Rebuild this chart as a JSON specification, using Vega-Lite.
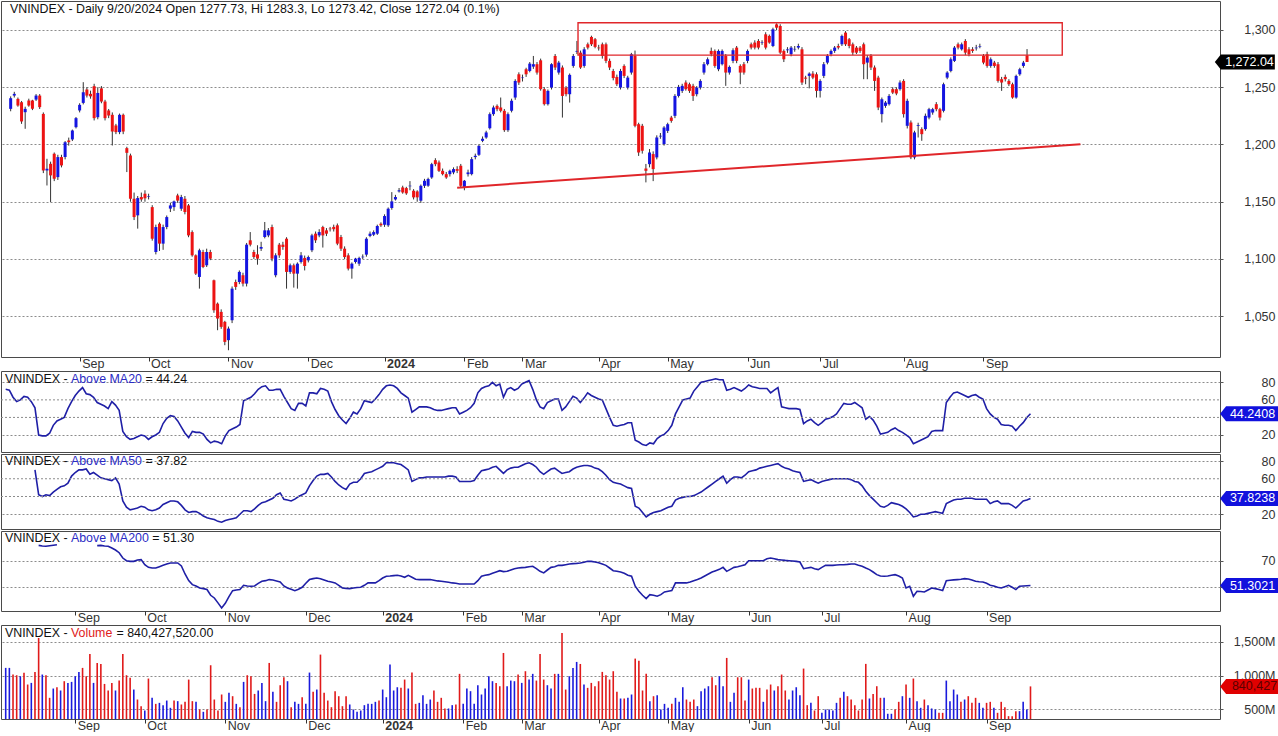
{
"$schema": "https://vega.github.io/schema/vega-lite/v6.json",
"padding": 0,
"background": "#ffffff",
"spacing": 0,
"config": {
  "view": {"stroke": "#4a4a4a", "strokeWidth": 1},
  "font": "Liberation Sans",
  "axis": {"labelFont": "Liberation Sans", "labelFontSize": 12.5, "labelColor": "#333333", "domain": false, "tickColor": "#555555", "labelOverlap": false, "labelBound": false},
  "text": {"font": "Liberation Sans", "fontSize": 12.4, "align": "left", "baseline": "middle"}
},
"datasets": {
"box": [{"i": 156.3, "i2": 289.7, "p": 1278, "p2": 1306.3}],
"trend": [{"i": 123.0, "i2": 294.7, "p": 1162.3, "p2": 1200.2}],
"bars": [
{"i":0,"o":1231.1,"h":1242,"l":1229,"c":1240.4,"v":1113,"a":72},
{"i":1,"o":1242.7,"h":1246,"l":1241,"c":1244.2,"v":1113,"a":71},
{"i":2,"o":1239.8,"h":1241,"l":1233,"c":1234,"v":1015,"a":63},
{"i":3,"o":1236.9,"h":1238,"l":1218,"c":1220.1,"v":1005,"a":58},
{"i":4,"o":1228.2,"h":1233,"l":1213.7,"c":1231.1,"v":990,"a":60},
{"i":5,"o":1238.4,"h":1240,"l":1233,"c":1234,"v":1040,"a":64},
{"i":6,"o":1238.4,"h":1239,"l":1230,"c":1231.1,"v":868,"a":63},
{"i":7,"o":1239.2,"h":1244,"l":1238,"c":1242.7,"v":892,"a":58},
{"i":8,"o":1242.7,"h":1244,"l":1231,"c":1232.6,"v":1054,"a":51,"b":70},
{"i":9,"o":1226.7,"h":1228,"l":1175,"c":1177.3,"v":1554,"a":20,"b":42,"m":81.5},
{"i":10,"o":1177.3,"h":1187.5,"l":1164.2,"c":1178.8,"v":1015,"a":19,"b":40,"m":81},
{"i":11,"o":1183.1,"h":1185,"l":1149.7,"c":1173,"v":1005,"a":19,"b":42,"m":80.8},
{"i":12,"o":1191.9,"h":1193,"l":1168,"c":1170.1,"v":672,"a":22,"b":41,"m":81.2},
{"i":13,"o":1171.5,"h":1191,"l":1169,"c":1189,"v":809,"a":31,"b":45,"m":81.6},
{"i":14,"o":1189,"h":1191,"l":1180,"c":1181.7,"v":828,"a":36,"b":48,"m":82},
{"i":15,"o":1189,"h":1203,"l":1187,"c":1202,"v":780,"a":38,"b":51},
{"i":16,"o":1203.5,"h":1206,"l":1199,"c":1202,"v":917,"a":40,"b":52},
{"i":17,"o":1204.4,"h":1213,"l":1203,"c":1212.2,"v":892,"a":50,"b":55},
{"i":18,"o":1215.1,"h":1224,"l":1214,"c":1223,"v":907,"a":58,"b":63},
{"i":19,"o":1229.7,"h":1236,"l":1228,"c":1234.6,"v":990,"a":65,"b":67},
{"i":20,"o":1236.3,"h":1254.4,"l":1235,"c":1245.6,"v":1054,"a":70,"b":70},
{"i":21,"o":1248,"h":1250,"l":1241,"c":1242.7,"v":1113,"a":74,"b":70},
{"i":22,"o":1244.2,"h":1247,"l":1240,"c":1242,"v":990,"a":67,"b":71},
{"i":23,"o":1250.9,"h":1253,"l":1221,"c":1223,"v":1319,"a":66,"b":65},
{"i":24,"o":1223.8,"h":1250,"l":1222,"c":1245,"v":892,"a":63,"b":67},
{"i":25,"o":1249,"h":1251,"l":1236,"c":1237.5,"v":1186,"a":57,"b":64,"m":81.3},
{"i":26,"o":1237.5,"h":1239,"l":1221,"c":1223,"v":1171,"a":55,"b":61,"m":81.5},
{"i":27,"o":1229.7,"h":1231,"l":1223,"c":1225.3,"v":877,"a":53,"b":60,"m":81},
{"i":28,"o":1225.9,"h":1228,"l":1199.1,"c":1211.3,"v":780,"a":50,"b":59,"m":80.8},
{"i":29,"o":1216.6,"h":1218,"l":1209,"c":1210.8,"v":892,"a":58,"b":58,"m":79.5},
{"i":30,"o":1210.8,"h":1227,"l":1209,"c":1225.9,"v":780,"a":54,"b":61,"m":78},
{"i":31,"o":1225.9,"h":1227,"l":1209,"c":1211.3,"v":926,"a":48,"b":54,"m":76},
{"i":32,"o":1196.8,"h":1198,"l":1175.9,"c":1192.7,"v":1319,"a":24,"b":35,"m":72},
{"i":33,"o":1190.4,"h":1192,"l":1150,"c":1152.6,"v":1005,"a":18,"b":28,"m":70},
{"i":34,"o":1152.6,"h":1158,"l":1134,"c":1136.6,"v":966,"a":15,"b":25,"m":69.5},
{"i":35,"o":1138.1,"h":1155,"l":1126.5,"c":1153.2,"v":794,"a":16,"b":26,"m":69.5},
{"i":36,"o":1154.1,"h":1158,"l":1150,"c":1152,"v":647,"a":18,"b":27,"m":70.5},
{"i":37,"o":1157,"h":1160,"l":1150,"c":1153,"v":549,"a":20,"b":29,"m":70.8},
{"i":38,"o":1154.5,"h":1157,"l":1152,"c":1155,"v":485,"a":19,"b":28,"m":67},
{"i":39,"o":1145.3,"h":1147,"l":1116,"c":1117.7,"v":956,"a":15,"b":25,"m":65},
{"i":40,"o":1106.1,"h":1130,"l":1104,"c":1127.9,"v":672,"a":18,"b":24,"m":64.5},
{"i":41,"o":1130.8,"h":1132,"l":1107,"c":1113.4,"v":583,"a":20,"b":25,"m":64.5},
{"i":42,"o":1113.4,"h":1130,"l":1108,"c":1127.9,"v":598,"a":23,"b":27,"m":65.5},
{"i":43,"o":1127.9,"h":1138,"l":1126,"c":1136.6,"v":564,"a":33,"b":31,"m":66.5},
{"i":44,"o":1144,"h":1149,"l":1141,"c":1146.8,"v":632,"a":39,"b":33,"m":67.5},
{"i":45,"o":1145.3,"h":1151,"l":1142,"c":1150.3,"v":525,"a":42,"b":35,"m":68.3},
{"i":46,"o":1155.5,"h":1157,"l":1149,"c":1151,"v":632,"a":41,"b":35,"m":68.3},
{"i":47,"o":1143.9,"h":1156,"l":1142,"c":1154.1,"v":623,"a":36,"b":34,"m":68.3},
{"i":48,"o":1152.6,"h":1155,"l":1139,"c":1141,"v":574,"a":29,"b":30,"m":66},
{"i":49,"o":1146.8,"h":1148,"l":1119,"c":1120.6,"v":613,"a":22,"b":25,"m":60},
{"i":50,"o":1123.5,"h":1125,"l":1102,"c":1103.2,"v":941,"a":17,"b":22,"m":55},
{"i":51,"o":1103.2,"h":1104,"l":1086,"c":1087.2,"v":623,"a":24,"b":23,"m":52},
{"i":52,"o":1084.3,"h":1109,"l":1074.1,"c":1107.6,"v":613,"a":23,"b":23,"m":51},
{"i":53,"o":1106.1,"h":1108,"l":1092,"c":1093,"v":500,"a":23,"b":21,"m":49.5},
{"i":54,"o":1094.5,"h":1109,"l":1093,"c":1106.1,"v":466,"a":21,"b":18,"m":49},
{"i":55,"o":1106.1,"h":1108,"l":1099,"c":1100.3,"v":500,"a":15,"b":16,"m":48.3},
{"i":56,"o":1081.4,"h":1082,"l":1053,"c":1055.2,"v":1152,"a":11,"b":15,"m":44},
{"i":57,"o":1061,"h":1062,"l":1037.8,"c":1048,"v":647,"a":13,"b":14,"m":42},
{"i":58,"o":1053.8,"h":1056,"l":1039,"c":1040.7,"v":485,"a":12,"b":12,"m":38.3},
{"i":59,"o":1045.1,"h":1046,"l":1024.7,"c":1027.6,"v":721,"a":10,"b":11,"m":34.5},
{"i":60,"o":1029.1,"h":1041,"l":1020.3,"c":1039.2,"v":613,"a":19,"b":13,"m":38},
{"i":61,"o":1046.5,"h":1076,"l":1044,"c":1074.1,"v":745,"a":25,"b":14,"m":43},
{"i":62,"o":1079.9,"h":1082,"l":1073,"c":1075.6,"v":696,"a":27,"b":15,"m":47.5},
{"i":63,"o":1079.9,"h":1090,"l":1078,"c":1088.7,"v":583,"a":29,"b":16,"m":48},
{"i":64,"o":1085.8,"h":1088,"l":1076,"c":1078.5,"v":534,"a":32,"b":20,"m":48.3},
{"i":65,"o":1078.5,"h":1114,"l":1076,"c":1112.5,"v":907,"a":59,"b":24,"m":51.5},
{"i":66,"o":1116.3,"h":1123.5,"l":1111,"c":1112.5,"v":1005,"a":61,"b":24,"m":51},
{"i":67,"o":1106.1,"h":1108,"l":1100,"c":1101.7,"v":990,"a":63,"b":23,"m":50.8},
{"i":68,"o":1104,"h":1112,"l":1095,"c":1100.3,"v":730,"a":67,"b":26,"m":51},
{"i":69,"o":1109,"h":1115,"l":1107,"c":1110.5,"v":780,"a":72,"b":30,"m":53},
{"i":70,"o":1119.2,"h":1132.3,"l":1118,"c":1125,"v":892,"a":75,"b":33,"m":54.5},
{"i":71,"o":1120.6,"h":1127,"l":1119,"c":1125,"v":623,"a":76,"b":34,"m":55},
{"i":72,"o":1127.9,"h":1130,"l":1098,"c":1100.3,"v":1186,"a":71,"b":36,"m":55.8},
{"i":73,"o":1085.8,"h":1105,"l":1084,"c":1103.2,"v":760,"a":71,"b":38,"m":55.5},
{"i":74,"o":1112.5,"h":1114,"l":1101,"c":1103.2,"v":613,"a":72,"b":42,"m":54.8},
{"i":75,"o":1112.5,"h":1115,"l":1108,"c":1110.5,"v":858,"a":72,"b":44,"m":54},
{"i":76,"o":1117.7,"h":1119,"l":1074.1,"c":1088.7,"v":975,"a":64,"b":37,"m":51},
{"i":77,"o":1088.7,"h":1096,"l":1087,"c":1094.5,"v":917,"a":57,"b":36,"m":49.5},
{"i":78,"o":1094.5,"h":1096,"l":1075,"c":1087.2,"v":534,"a":50,"b":35,"m":48.5},
{"i":79,"o":1087.2,"h":1097,"l":1074.1,"c":1095.9,"v":613,"a":48,"b":37,"m":47.5},
{"i":80,"o":1097.4,"h":1106,"l":1096,"c":1103.2,"v":583,"a":56,"b":40,"m":48.5},
{"i":81,"o":1100.9,"h":1103,"l":1090,"c":1093.9,"v":681,"a":56,"b":42,"m":50},
{"i":82,"o":1098.8,"h":1103,"l":1097,"c":1101.7,"v":583,"a":53,"b":44,"m":53},
{"i":83,"o":1107.6,"h":1122,"l":1106,"c":1120.6,"v":1044,"a":68,"b":52,"m":55.8},
{"i":84,"o":1122.1,"h":1124,"l":1114,"c":1116.3,"v":760,"a":68,"b":58,"m":56.5},
{"i":85,"o":1120.6,"h":1126,"l":1119,"c":1123.5,"v":794,"a":67,"b":63,"m":57},
{"i":86,"o":1127.9,"h":1129,"l":1110,"c":1120.6,"v":1309,"a":73,"b":65,"m":56.5},
{"i":87,"o":1125,"h":1127,"l":1120,"c":1122.1,"v":745,"a":72,"b":65,"m":55.5},
{"i":88,"o":1126.5,"h":1128,"l":1124,"c":1126,"v":632,"a":70,"b":66,"m":54.5},
{"i":89,"o":1128,"h":1130,"l":1124,"c":1126,"v":534,"a":58,"b":62,"m":54},
{"i":90,"o":1129.4,"h":1131,"l":1112,"c":1113.4,"v":770,"a":49,"b":57,"m":53.3},
{"i":91,"o":1119.2,"h":1121,"l":1107,"c":1109,"v":696,"a":42,"b":53,"m":51.5},
{"i":92,"o":1109,"h":1111,"l":1100,"c":1101.7,"v":549,"a":37,"b":50,"m":49.5},
{"i":93,"o":1103.2,"h":1105,"l":1090,"c":1091.6,"v":696,"a":33,"b":48,"m":49.2},
{"i":94,"o":1091.6,"h":1097,"l":1082.8,"c":1095.9,"v":574,"a":39,"b":54,"m":49},
{"i":95,"o":1097.4,"h":1101,"l":1096,"c":1100.3,"v":500,"a":46,"b":56,"m":49.5},
{"i":96,"o":1095.9,"h":1102,"l":1094,"c":1100.9,"v":466,"a":44,"b":56,"m":49.8},
{"i":97,"o":1101.5,"h":1104,"l":1100,"c":1102,"v":485,"a":50,"b":60,"m":50},
{"i":98,"o":1103.8,"h":1119,"l":1102,"c":1117.7,"v":564,"a":59,"b":66,"m":51.5},
{"i":99,"o":1120.1,"h":1124,"l":1119,"c":1122.1,"v":583,"a":58,"b":67,"m":53.3},
{"i":100,"o":1121.2,"h":1125,"l":1120,"c":1123.5,"v":583,"a":57,"b":68,"m":53.3},
{"i":101,"o":1122.1,"h":1130,"l":1121,"c":1128.8,"v":613,"a":61,"b":70,"m":53.3},
{"i":102,"o":1130.8,"h":1132,"l":1128,"c":1129.4,"v":632,"a":66,"b":72,"m":55},
{"i":103,"o":1129.9,"h":1139,"l":1128,"c":1137.5,"v":794,"a":72,"b":74,"m":57},
{"i":104,"o":1129.4,"h":1145,"l":1128,"c":1143.9,"v":681,"a":76,"b":78,"m":58.3},
{"i":105,"o":1144.5,"h":1158.4,"l":1143,"c":1150.3,"v":1162,"a":77,"b":78,"m":58.5},
{"i":106,"o":1152,"h":1156,"l":1151,"c":1154.1,"v":780,"a":76,"b":78,"m":58.8},
{"i":107,"o":1159,"h":1162,"l":1158,"c":1160,"v":828,"a":73,"b":77,"m":59},
{"i":108,"o":1162.5,"h":1164,"l":1157,"c":1158.1,"v":819,"a":68,"b":76,"m":58.5},
{"i":109,"o":1161.9,"h":1163,"l":1156,"c":1157.3,"v":941,"a":65,"b":73,"m":57.5},
{"i":110,"o":1163.5,"h":1168,"l":1160,"c":1164,"v":809,"a":62,"b":70,"m":59},
{"i":111,"o":1159.6,"h":1161,"l":1152,"c":1153.8,"v":1044,"a":46,"b":57,"m":57.5},
{"i":112,"o":1159,"h":1160,"l":1150,"c":1153.8,"v":583,"a":49,"b":59,"m":56},
{"i":113,"o":1150.9,"h":1165,"l":1149,"c":1163.9,"v":598,"a":52,"b":61,"m":55.8},
{"i":114,"o":1163.9,"h":1170,"l":1162,"c":1168.3,"v":711,"a":52,"b":61,"m":55.8},
{"i":115,"o":1164,"h":1171,"l":1163,"c":1169.8,"v":583,"a":52,"b":62,"m":55.8},
{"i":116,"o":1171.2,"h":1184,"l":1170,"c":1182.8,"v":647,"a":51,"b":62,"m":55.8},
{"i":117,"o":1186.3,"h":1188,"l":1181,"c":1182.8,"v":780,"a":49,"b":62,"m":55.3},
{"i":118,"o":1184.3,"h":1186,"l":1176,"c":1177,"v":613,"a":48,"b":62,"m":54.8},
{"i":119,"o":1177,"h":1179,"l":1173,"c":1174.1,"v":672,"a":48,"b":62,"m":54.5},
{"i":120,"o":1174.1,"h":1176,"l":1170,"c":1171.2,"v":515,"a":49,"b":62,"m":54.2},
{"i":121,"o":1174.1,"h":1178,"l":1172,"c":1177,"v":515,"a":50,"b":63,"m":53.8},
{"i":122,"o":1175.6,"h":1180,"l":1174,"c":1178.5,"v":564,"a":51,"b":63,"m":53.3},
{"i":123,"o":1178.5,"h":1181,"l":1175,"c":1177,"v":574,"a":51,"b":62,"m":53},
{"i":124,"o":1181.4,"h":1183,"l":1162,"c":1163.9,"v":1025,"a":44,"b":57,"m":52.5},
{"i":125,"o":1162.5,"h":1169,"l":1160,"c":1168.3,"v":583,"a":46,"b":57,"m":52.5},
{"i":126,"o":1174.1,"h":1178,"l":1172,"c":1175.6,"v":809,"a":48,"b":57,"m":52.5},
{"i":127,"o":1174.1,"h":1189,"l":1173,"c":1187.2,"v":770,"a":51,"b":57,"m":52.5},
{"i":128,"o":1189,"h":1192,"l":1187,"c":1190.1,"v":583,"a":56,"b":58,"m":52.5},
{"i":129,"o":1191,"h":1200,"l":1190,"c":1198.8,"v":858,"a":68,"b":64,"m":55},
{"i":130,"o":1203.2,"h":1207,"l":1202,"c":1205,"v":721,"a":73,"b":69,"m":58.3},
{"i":131,"o":1206.1,"h":1212,"l":1205,"c":1210.5,"v":809,"a":75,"b":70,"m":59},
{"i":132,"o":1214.2,"h":1228,"l":1213,"c":1226.5,"v":990,"a":76,"b":71,"m":59.5},
{"i":133,"o":1226.5,"h":1234,"l":1225,"c":1232.3,"v":917,"a":80,"b":73,"m":60.5},
{"i":134,"o":1233.7,"h":1235,"l":1229,"c":1230.8,"v":892,"a":76,"b":74,"m":61.5},
{"i":135,"o":1232.3,"h":1241,"l":1228,"c":1229.4,"v":843,"a":78,"b":70,"m":62.5},
{"i":136,"o":1229.4,"h":1231,"l":1211,"c":1212.5,"v":1333,"a":63,"b":66,"m":61.8},
{"i":137,"o":1212.5,"h":1228,"l":1211,"c":1226.5,"v":843,"a":72,"b":70,"m":62},
{"i":138,"o":1229.4,"h":1240,"l":1228,"c":1238.1,"v":926,"a":74,"b":72,"m":63},
{"i":139,"o":1241,"h":1257,"l":1239,"c":1255.5,"v":917,"a":71,"b":73,"m":64},
{"i":140,"o":1261.3,"h":1263,"l":1252,"c":1254.1,"v":1015,"a":73,"b":73,"m":64.5},
{"i":141,"o":1258,"h":1261,"l":1255,"c":1258.4,"v":892,"a":78,"b":75,"m":64.8},
{"i":142,"o":1265.7,"h":1267,"l":1259,"c":1261.3,"v":1064,"a":80,"b":77,"m":65},
{"i":143,"o":1264.2,"h":1272,"l":1263,"c":1270.6,"v":941,"a":82,"b":78,"m":65.5},
{"i":144,"o":1268,"h":1277.3,"l":1266,"c":1270.1,"v":1025,"a":72,"b":76,"m":65.8},
{"i":145,"o":1270.1,"h":1272,"l":1261,"c":1262.8,"v":926,"a":60,"b":73,"m":64},
{"i":146,"o":1273.5,"h":1275,"l":1247,"c":1248.3,"v":1319,"a":52,"b":68,"m":62},
{"i":147,"o":1248.3,"h":1250,"l":1234,"c":1235.2,"v":941,"a":50,"b":65,"m":60.8},
{"i":148,"o":1235.2,"h":1248,"l":1234,"c":1246.8,"v":858,"a":57,"b":68,"m":63},
{"i":149,"o":1249.7,"h":1271,"l":1248,"c":1270.1,"v":809,"a":59,"b":71,"m":65},
{"i":150,"o":1277.3,"h":1279,"l":1265,"c":1267.2,"v":1025,"a":61,"b":72,"m":65.5},
{"i":151,"o":1262.8,"h":1273,"l":1261,"c":1271.5,"v":1025,"a":61,"b":69,"m":66.5},
{"i":152,"o":1267.2,"h":1269,"l":1223.5,"c":1242.4,"v":1627,"a":48,"b":66,"m":66.5},
{"i":153,"o":1249.7,"h":1251,"l":1242,"c":1243.9,"v":794,"a":52,"b":67,"m":67},
{"i":154,"o":1243.9,"h":1262,"l":1236.6,"c":1260.8,"v":990,"a":58,"b":68,"m":67.5},
{"i":155,"o":1268.6,"h":1279,"l":1267,"c":1277.3,"v":1113,"a":64,"b":71,"m":67.8},
{"i":156,"o":1281,"h":1290.4,"l":1279,"c":1281.7,"v":1201,"a":62,"b":73,"m":68},
{"i":157,"o":1280.2,"h":1282,"l":1266,"c":1267.2,"v":1171,"a":57,"b":74,"m":68.3},
{"i":158,"o":1268.6,"h":1285,"l":1267,"c":1283.1,"v":868,"a":62,"b":75,"m":68.8},
{"i":159,"o":1287.5,"h":1289,"l":1283,"c":1284.6,"v":819,"a":68,"b":75,"m":69.5},
{"i":160,"o":1293.9,"h":1295,"l":1286,"c":1287.5,"v":892,"a":65,"b":74,"m":69.5},
{"i":161,"o":1291.9,"h":1293,"l":1284,"c":1285.2,"v":843,"a":63,"b":72,"m":69},
{"i":162,"o":1284.6,"h":1287,"l":1282,"c":1284,"v":917,"a":61,"b":71,"m":68.5},
{"i":163,"o":1287.5,"h":1289,"l":1275,"c":1277.3,"v":1054,"a":60,"b":68,"m":67.5},
{"i":164,"o":1287.5,"h":1289,"l":1271,"c":1273,"v":1005,"a":50,"b":64,"m":66.5},
{"i":165,"o":1273,"h":1275,"l":1265,"c":1267.2,"v":941,"a":40,"b":59,"m":64.5},
{"i":166,"o":1264.2,"h":1266,"l":1256,"c":1258,"v":1064,"a":31,"b":56,"m":62.5},
{"i":167,"o":1259,"h":1261,"l":1251,"c":1252.6,"v":760,"a":30,"b":55,"m":62},
{"i":168,"o":1249.7,"h":1266,"l":1248,"c":1264.2,"v":662,"a":31,"b":54,"m":61.5},
{"i":169,"o":1268.6,"h":1270,"l":1258,"c":1259.9,"v":662,"a":32,"b":52,"m":60.5},
{"i":170,"o":1249.7,"h":1260,"l":1248,"c":1258.4,"v":672,"a":34,"b":50,"m":59},
{"i":171,"o":1262.8,"h":1280,"l":1261,"c":1278.8,"v":721,"a":34,"b":49,"m":58.3},
{"i":172,"o":1277.3,"h":1282,"l":1215,"c":1216.3,"v":1250,"a":14,"b":29,"m":50.8},
{"i":173,"o":1217.7,"h":1219,"l":1190,"c":1193,"v":1220,"a":12,"b":27,"m":47},
{"i":174,"o":1216.3,"h":1218,"l":1192,"c":1194.5,"v":780,"a":9,"b":22,"m":44},
{"i":175,"o":1179,"h":1183,"l":1166.9,"c":1177,"v":1025,"a":8,"b":17,"m":41.5},
{"i":176,"o":1182.8,"h":1196,"l":1180,"c":1193,"v":623,"a":11,"b":20,"m":44.5},
{"i":177,"o":1191.6,"h":1194,"l":1168,"c":1178.5,"v":696,"a":10,"b":22,"m":44},
{"i":178,"o":1188.7,"h":1208,"l":1187,"c":1206.1,"v":711,"a":16,"b":23,"m":43.3},
{"i":179,"o":1207,"h":1210,"l":1205,"c":1207.6,"v":500,"a":19,"b":24,"m":44.5},
{"i":180,"o":1200.3,"h":1216,"l":1199,"c":1214.8,"v":583,"a":21,"b":26,"m":46.5},
{"i":181,"o":1211.9,"h":1219,"l":1210,"c":1217.7,"v":525,"a":25,"b":28,"m":47},
{"i":182,"o":1223.5,"h":1225,"l":1219,"c":1220.6,"v":583,"a":31,"b":29,"m":47.5},
{"i":183,"o":1225,"h":1244,"l":1223,"c":1242.4,"v":672,"a":44,"b":36,"m":53.3},
{"i":184,"o":1242.4,"h":1252,"l":1241,"c":1250.3,"v":613,"a":52,"b":38,"m":53.3},
{"i":185,"o":1246.8,"h":1253,"l":1245,"c":1251.2,"v":828,"a":60,"b":39,"m":53.3},
{"i":186,"o":1254.1,"h":1256,"l":1247,"c":1248.3,"v":647,"a":61,"b":40,"m":53.3},
{"i":187,"o":1252.6,"h":1254,"l":1245,"c":1246.8,"v":613,"a":62,"b":40,"m":54},
{"i":188,"o":1251.2,"h":1253,"l":1238,"c":1242.4,"v":647,"a":70,"b":41,"m":55},
{"i":189,"o":1243.9,"h":1251,"l":1242,"c":1249.7,"v":549,"a":75,"b":43,"m":55.8},
{"i":190,"o":1249.7,"h":1257,"l":1248,"c":1255.5,"v":770,"a":80,"b":45,"m":57},
{"i":191,"o":1262.8,"h":1272,"l":1261,"c":1270.1,"v":809,"a":81,"b":48,"m":58.5},
{"i":192,"o":1270.1,"h":1276,"l":1269,"c":1274.4,"v":843,"a":82,"b":51,"m":60},
{"i":193,"o":1281.7,"h":1284.6,"l":1277,"c":1278.8,"v":975,"a":83,"b":54,"m":61.5},
{"i":194,"o":1281.7,"h":1283,"l":1267,"c":1268.6,"v":858,"a":84,"b":57,"m":62.5},
{"i":195,"o":1265.7,"h":1283,"l":1264,"c":1281.7,"v":990,"a":83,"b":60,"m":63.5},
{"i":196,"o":1270.1,"h":1283,"l":1269,"c":1281.7,"v":843,"a":83,"b":63,"m":65},
{"i":197,"o":1277.3,"h":1279,"l":1251.2,"c":1262.8,"v":1260,"a":71,"b":55,"m":62},
{"i":198,"o":1262.8,"h":1269,"l":1261,"c":1267.7,"v":613,"a":72,"b":59,"m":63.5},
{"i":199,"o":1273,"h":1284,"l":1271,"c":1282.3,"v":745,"a":74,"b":62,"m":65},
{"i":200,"o":1284.6,"h":1286,"l":1271,"c":1273,"v":975,"a":72,"b":62,"m":65.5},
{"i":201,"o":1268.6,"h":1270,"l":1252.6,"c":1262.8,"v":975,"a":70,"b":61,"m":66.2},
{"i":202,"o":1270.1,"h":1272,"l":1261,"c":1262.8,"v":632,"a":73,"b":64,"m":67},
{"i":203,"o":1273,"h":1283,"l":1271,"c":1281.7,"v":941,"a":77,"b":68,"m":70},
{"i":204,"o":1287.5,"h":1289,"l":1283,"c":1284.6,"v":809,"a":75,"b":69,"m":70},
{"i":205,"o":1289,"h":1291,"l":1283,"c":1284.6,"v":819,"a":74,"b":70,"m":70},
{"i":206,"o":1290.4,"h":1292,"l":1283,"c":1284.6,"v":819,"a":73,"b":72,"m":70},
{"i":207,"o":1289,"h":1291,"l":1287,"c":1289.5,"v":613,"a":73,"b":73,"m":70},
{"i":208,"o":1296.2,"h":1298,"l":1283,"c":1284.6,"v":794,"a":73,"b":74,"m":71.5},
{"i":209,"o":1294.8,"h":1296,"l":1288,"c":1289,"v":868,"a":68,"b":75,"m":72},
{"i":210,"o":1286,"h":1302,"l":1285,"c":1300.6,"v":780,"a":71,"b":76,"m":71.5},
{"i":211,"o":1304.9,"h":1305.8,"l":1300,"c":1302,"v":843,"a":74,"b":77,"m":70.8},
{"i":212,"o":1303.5,"h":1305,"l":1279,"c":1280.2,"v":1015,"a":52,"b":74,"m":70.5},
{"i":213,"o":1281.7,"h":1283,"l":1272,"c":1274.4,"v":780,"a":51,"b":72,"m":70.2},
{"i":214,"o":1282.3,"h":1285,"l":1280,"c":1283,"v":647,"a":50,"b":71,"m":70},
{"i":215,"o":1278.8,"h":1286,"l":1277,"c":1284.6,"v":780,"a":50,"b":69,"m":69.8},
{"i":216,"o":1283,"h":1286,"l":1281,"c":1283.5,"v":828,"a":50,"b":68,"m":69.5},
{"i":217,"o":1284.6,"h":1288,"l":1283,"c":1286,"v":711,"a":49,"b":67,"m":69},
{"i":218,"o":1283.1,"h":1285,"l":1252,"c":1254.1,"v":1103,"a":33,"b":57,"m":64},
{"i":219,"o":1258.4,"h":1260,"l":1252.6,"c":1257.5,"v":564,"a":36,"b":58,"m":64.5},
{"i":220,"o":1259.9,"h":1263,"l":1249,"c":1261.9,"v":598,"a":38,"b":59,"m":65},
{"i":221,"o":1261.9,"h":1264,"l":1257,"c":1258.4,"v":485,"a":34,"b":57,"m":64},
{"i":222,"o":1261.3,"h":1263,"l":1241,"c":1246.8,"v":696,"a":31,"b":55,"m":63.3},
{"i":223,"o":1246.8,"h":1257,"l":1241,"c":1255.5,"v":451,"a":34,"b":57,"m":65},
{"i":224,"o":1259.9,"h":1272,"l":1258,"c":1270.1,"v":500,"a":38,"b":58,"m":66.5},
{"i":225,"o":1271.5,"h":1279,"l":1270,"c":1277.3,"v":500,"a":39,"b":59,"m":66.5},
{"i":226,"o":1278.8,"h":1283,"l":1277,"c":1281.7,"v":485,"a":41,"b":60,"m":66.5},
{"i":227,"o":1281.7,"h":1286,"l":1280,"c":1284.6,"v":598,"a":44,"b":60,"m":66.8},
{"i":228,"o":1286,"h":1288,"l":1283,"c":1284.6,"v":672,"a":50,"b":60,"m":67},
{"i":229,"o":1287.5,"h":1296,"l":1286,"c":1294.8,"v":760,"a":56,"b":60,"m":67},
{"i":230,"o":1297.7,"h":1299,"l":1286,"c":1287.5,"v":696,"a":55,"b":60,"m":67.2},
{"i":231,"o":1291.9,"h":1293,"l":1284,"c":1286,"v":647,"a":55,"b":59,"m":67.5},
{"i":232,"o":1287.5,"h":1289,"l":1278,"c":1280.2,"v":564,"a":57,"b":57,"m":67.5},
{"i":233,"o":1284.6,"h":1286,"l":1279,"c":1280.2,"v":485,"a":54,"b":56,"m":66.5},
{"i":234,"o":1284.6,"h":1286,"l":1280,"c":1281.7,"v":647,"a":51,"b":52,"m":65.8},
{"i":235,"o":1287.5,"h":1289,"l":1257,"c":1270.1,"v":1172,"a":38,"b":46,"m":64.5},
{"i":236,"o":1271.5,"h":1278,"l":1257,"c":1275.9,"v":662,"a":41,"b":41,"m":63.3},
{"i":237,"o":1277.3,"h":1279,"l":1265,"c":1267.2,"v":730,"a":37,"b":37,"m":61.5},
{"i":238,"o":1267.2,"h":1269,"l":1246.8,"c":1255.5,"v":843,"a":30,"b":33,"m":59.5},
{"i":239,"o":1258.4,"h":1260,"l":1230,"c":1232.3,"v":672,"a":21,"b":29,"m":58.5},
{"i":240,"o":1226.5,"h":1241,"l":1219.2,"c":1239.5,"v":672,"a":22,"b":28,"m":58.3},
{"i":241,"o":1233.7,"h":1238,"l":1232,"c":1236.6,"v":437,"a":23,"b":30,"m":58.5},
{"i":242,"o":1235.2,"h":1244,"l":1234,"c":1242.4,"v":437,"a":26,"b":33,"m":59},
{"i":243,"o":1248.3,"h":1250,"l":1244,"c":1245.3,"v":500,"a":28,"b":32,"m":59.5},
{"i":244,"o":1248.3,"h":1250,"l":1243,"c":1244.5,"v":613,"a":25,"b":31,"m":58.5},
{"i":245,"o":1248.3,"h":1256,"l":1247,"c":1254.1,"v":696,"a":23,"b":29,"m":57},
{"i":246,"o":1255.5,"h":1257,"l":1223.5,"c":1226.5,"v":868,"a":20,"b":26,"m":49.5},
{"i":247,"o":1216.3,"h":1240,"l":1214,"c":1238.1,"v":672,"a":17,"b":22,"m":50.8},
{"i":248,"o":1219.2,"h":1221,"l":1187.2,"c":1188.7,"v":956,"a":10,"b":17,"m":43.3},
{"i":249,"o":1188.7,"h":1212,"l":1187,"c":1210.5,"v":623,"a":12,"b":18,"m":47},
{"i":250,"o":1216.3,"h":1219,"l":1206.1,"c":1217,"v":525,"a":14,"b":20,"m":46.8},
{"i":251,"o":1213.4,"h":1215,"l":1203.2,"c":1209,"v":647,"a":16,"b":20,"m":46.5},
{"i":252,"o":1213.4,"h":1227,"l":1212,"c":1225,"v":564,"a":18,"b":21,"m":48},
{"i":253,"o":1223.5,"h":1232,"l":1222,"c":1230.8,"v":515,"a":24,"b":22,"m":49.5},
{"i":254,"o":1227.9,"h":1232,"l":1226,"c":1230.8,"v":500,"a":25,"b":23,"m":49},
{"i":255,"o":1235.2,"h":1237,"l":1229,"c":1230.8,"v":451,"a":25,"b":22,"m":48.3},
{"i":256,"o":1230.8,"h":1232,"l":1221,"c":1223.5,"v":451,"a":25,"b":21,"m":47.5},
{"i":257,"o":1229.4,"h":1254,"l":1228,"c":1252.6,"v":926,"a":57,"b":32,"m":55},
{"i":258,"o":1258.4,"h":1264,"l":1257,"c":1262.8,"v":623,"a":63,"b":34,"m":55.3},
{"i":259,"o":1264.2,"h":1276,"l":1263,"c":1274.4,"v":794,"a":68,"b":36,"m":55.6},
{"i":260,"o":1273,"h":1286,"l":1272,"c":1284.6,"v":721,"a":69,"b":37,"m":55.8},
{"i":261,"o":1287.5,"h":1289,"l":1283,"c":1284.6,"v":613,"a":67,"b":37,"m":56},
{"i":262,"o":1283.1,"h":1289,"l":1282,"c":1287.5,"v":647,"a":65,"b":38,"m":56.5},
{"i":263,"o":1290.4,"h":1292,"l":1278,"c":1280.2,"v":696,"a":63,"b":38,"m":56.2},
{"i":264,"o":1283.1,"h":1285,"l":1277,"c":1278.8,"v":598,"a":65,"b":38,"m":55.5},
{"i":265,"o":1283.1,"h":1285,"l":1280,"c":1281.7,"v":672,"a":66,"b":37,"m":54.5},
{"i":266,"o":1284,"h":1287,"l":1282,"c":1284.6,"v":598,"a":63,"b":37,"m":54.2},
{"i":267,"o":1285.5,"h":1288,"l":1284,"c":1286,"v":525,"a":61,"b":37,"m":54},
{"i":268,"o":1277.3,"h":1279,"l":1270,"c":1271.5,"v":598,"a":50,"b":37,"m":53},
{"i":269,"o":1278.8,"h":1281,"l":1267,"c":1268.6,"v":613,"a":44,"b":32,"m":51.5},
{"i":270,"o":1268.6,"h":1276,"l":1267,"c":1274.4,"v":525,"a":40,"b":34,"m":51},
{"i":271,"o":1271.5,"h":1273,"l":1267,"c":1268.6,"v":451,"a":38,"b":35,"m":50},
{"i":272,"o":1270.1,"h":1272,"l":1254,"c":1255.5,"v":613,"a":32,"b":32,"m":49.5},
{"i":273,"o":1257,"h":1259,"l":1246.8,"c":1254.1,"v":534,"a":31,"b":32,"m":50.5},
{"i":274,"o":1259,"h":1261,"l":1255,"c":1257,"v":402,"a":31,"b":32,"m":51.5},
{"i":275,"o":1255.5,"h":1257,"l":1251,"c":1252.6,"v":402,"a":30,"b":30,"m":50},
{"i":276,"o":1252.6,"h":1254,"l":1240,"c":1241,"v":476,"a":25,"b":27,"m":48.3},
{"i":277,"o":1241,"h":1261,"l":1240,"c":1259.9,"v":476,"a":30,"b":31,"m":50.8},
{"i":278,"o":1261.3,"h":1267,"l":1260,"c":1265.7,"v":613,"a":34,"b":35,"m":51},
{"i":279,"o":1268.6,"h":1273,"l":1267,"c":1271.5,"v":500,"a":40,"b":36,"m":51.2},
{"i":280,"o":1277.73,"h":1283.3,"l":1272.04,"c":1272.04,"v":840.43,"a":44.2408,"b":37.8238,"m":51.3021}
]
},
"vconcat": [
{
  "width": 1219, "height": 356,
  "data": {"name": "bars"},
  "encoding": {
    "x": {"field": "i", "type": "quantitative", "scale": {"domain": [-1.284, 331.78], "nice": false, "zero": false},
      "axis": {"title": null, "orient": "bottom", "values": [19,38,60,82,103,125,141,162,181,203,223,246,268],
        "labelExpr": "['Sep','Oct','Nov','Dec','2024','Feb','Mar','Apr','May','Jun','Jul','Aug','Sep'][indexof([19,38,60,82,103,125,141,162,181,203,223,246,268], datum.value)]",
        "labelAlign": "left", "labelBaseline": "middle", "labelOffset": 2, "labelPadding": 2, "tickSize": 4, "tickColor": "#333333", "grid": false, "labelOverlap": false, "labelFlush": false,
        "labelFontWeight": {"condition": {"test": "datum.value == 103", "value": "bold"}, "value": "normal"}}}
  },
  "layer": [
    {"mark": {"type": "rule", "color": "#333333", "strokeWidth": 1},
     "encoding": {
       "y": {"field": "l", "type": "quantitative", "scale": {"domain": [1014.4, 1325.3], "nice": false, "zero": false},
         "axis": {"title": null, "orient": "right", "values": [1050,1100,1150,1200,1250,1300], "labelExpr": "format(datum.value, ',')", "labelOverlap": false, "grid": true, "gridColor": "#8c8c8c", "gridDash": [2,2], "tickSize": 3, "labelAlign": "right", "labelBaseline": "middle", "labelPadding": 52}},
       "y2": {"field": "h"}}},
    {"mark": {"type": "bar", "width": 3},
     "encoding": {"y": {"field": "o", "type": "quantitative"}, "y2": {"field": "c"},
       "color": {"condition": {"test": "datum.c >= datum.o", "value": "#1414e0"}, "value": "#ec1313"}}},
    {"data": {"name": "box"}, "mark": {"type": "rect", "filled": false, "stroke": "#e0262a", "strokeWidth": 1.4},
     "encoding": {"x2": {"field": "i2"}, "y": {"field": "p", "type": "quantitative"}, "y2": {"field": "p2"}}},
    {"data": {"name": "trend"}, "mark": {"type": "rule", "color": "#e0262a", "strokeWidth": 2},
     "encoding": {"x2": {"field": "i2"}, "y": {"field": "p", "type": "quantitative"}, "y2": {"field": "p2"}}},
    {"transform": [{"filter": "datum.i == 280"}], "mark": {"type": "text", "color": "#111111"},
     "encoding": {"x": {"datum": -0.2, "type": "quantitative"}, "y": {"datum": 1318.3, "type": "quantitative"},
       "text": {"value": "VNINDEX - Daily 9/20/2024 Open 1277.73, Hi 1283.3, Lo 1273.42, Close 1272.04 (0.1%)"}}},
    {"transform": [{"filter": "datum.i == 280"}],
     "mark": {"type": "point", "shape": "M -1 0 L -0.8 -0.25 L 1 -0.25 L 1 0.25 L -0.8 0.25 Z", "size": 3600, "filled": true, "color": "#000000", "opacity": 1},
     "encoding": {"x": {"datum": 340, "type": "quantitative"}, "y": {"field": "c", "type": "quantitative"}}},
    {"transform": [{"filter": "datum.i == 280"}],
     "mark": {"type": "text", "color": "#ffffff", "align": "right", "dx": 29, "fontSize": 12.5},
     "encoding": {"x": {"datum": 340, "type": "quantitative"}, "y": {"field": "c", "type": "quantitative"},
       "text": {"field": "c", "format": ",.2f"}}}
  ]
},
{
  "width": 1219, "height": 81,
  "data": {"name": "bars"},
  "encoding": {"x": {"field": "i", "type": "quantitative", "scale": {"domain": [-1.284, 331.78], "nice": false, "zero": false}, "axis": null}},
  "layer": [
    {"mark": {"type": "line", "color": "#1f1fa6", "strokeWidth": 1.6, "clip": true, "invalid": "break-paths-show-domains"},
     "encoding": {
       "y": {"field": "a", "type": "quantitative", "scale": {"domain": [0.6, 92.9], "nice": false, "zero": false},
         "axis": {"title": null, "orient": "right", "values": [20,40,60,80], "labelExpr": "datum.value == 40 || datum.value == 60 ? '' : datum.label", "labelOverlap": false, "grid": true, "gridColor": "#8c8c8c", "gridDash": [2,2], "tickSize": 3, "labelAlign": "right", "labelBaseline": "middle", "labelPadding": 52}}}},
    {"transform": [{"filter": "datum.i == 280"}], "mark": {"type": "rule", "color": "#8c8c8c", "strokeDash": [2,2], "strokeWidth": 1},
     "encoding": {"x": {"datum": -1.284, "type": "quantitative", "axis": null}, "x2": {"datum": 331.78}, "y": {"datum": 60, "type": "quantitative"}}},
    {"transform": [{"filter": "datum.i == 280"}], "mark": {"type": "rule", "color": "#8c8c8c", "strokeDash": [2,2], "strokeWidth": 1},
     "encoding": {"x": {"datum": -1.284, "type": "quantitative", "axis": null}, "x2": {"datum": 331.78}, "y": {"datum": 40, "type": "quantitative"}}},
    {"transform": [{"filter": "datum.i == 280"}], "mark": {"type": "text", "color": "#333333", "align": "right", "dx": 25, "fontSize": 12.5},
     "encoding": {"x": {"datum": 340, "type": "quantitative", "axis": null}, "y": {"datum": 60, "type": "quantitative"}, "text": {"value": "60"}}},
    {"transform": [{"filter": "datum.i == 280"}], "mark": {"type": "text", "color": "#111111"},
     "encoding": {"x": {"datum": -0.2, "type": "quantitative", "axis": null}, "y": {"datum": 83.8, "type": "quantitative"}, "text": {"value": "VNINDEX - "}}},
    {"transform": [{"filter": "datum.i == 280"}], "mark": {"type": "text", "color": "#2b2bc4", "dx": 66},
     "encoding": {"x": {"datum": -0.2, "type": "quantitative", "axis": null}, "y": {"datum": 83.8, "type": "quantitative"}, "text": {"value": "Above MA20"}}},
    {"transform": [{"filter": "datum.i == 280"}], "mark": {"type": "text", "color": "#111111", "dx": 140.5},
     "encoding": {"x": {"datum": -0.2, "type": "quantitative", "axis": null}, "y": {"datum": 83.8, "type": "quantitative"}, "text": {"value": "= 44.24"}}},
    {"transform": [{"filter": "datum.i == 280"}],
     "mark": {"type": "point", "shape": "M -1 0 L -0.8 -0.25 L 1 -0.25 L 1 0.25 L -0.8 0.25 Z", "size": 3600, "filled": true, "color": "#1111dd", "opacity": 1},
     "encoding": {"x": {"datum": 340, "type": "quantitative", "axis": null}, "y": {"field": "a", "type": "quantitative"}}},
    {"transform": [{"filter": "datum.i == 280"}],
     "mark": {"type": "text", "color": "#ffffff", "align": "right", "dx": 25, "fontSize": 12.5},
     "encoding": {"x": {"datum": 340, "type": "quantitative", "axis": null}, "y": {"field": "a", "type": "quantitative"}, "text": {"field": "a", "format": ".4f"}}}
  ]
},
{
  "width": 1219, "height": 75,
  "data": {"name": "bars"},
  "encoding": {"x": {"field": "i", "type": "quantitative", "scale": {"domain": [-1.284, 331.78], "nice": false, "zero": false}, "axis": null}},
  "layer": [
    {"mark": {"type": "line", "color": "#1f1fa6", "strokeWidth": 1.6, "clip": true, "invalid": "break-paths-show-domains"},
     "encoding": {
       "y": {"field": "b", "type": "quantitative", "scale": {"domain": [3.4, 87.9], "nice": false, "zero": false},
         "axis": {"title": null, "orient": "right", "values": [20,40,60,80], "labelExpr": "datum.value == 40 || datum.value == 60 ? '' : datum.label", "labelOverlap": false, "grid": true, "gridColor": "#8c8c8c", "gridDash": [2,2], "tickSize": 3, "labelAlign": "right", "labelBaseline": "middle", "labelPadding": 52}}}},
    {"transform": [{"filter": "datum.i == 280"}], "mark": {"type": "rule", "color": "#8c8c8c", "strokeDash": [2,2], "strokeWidth": 1},
     "encoding": {"x": {"datum": -1.284, "type": "quantitative", "axis": null}, "x2": {"datum": 331.78}, "y": {"datum": 60, "type": "quantitative"}}},
    {"transform": [{"filter": "datum.i == 280"}], "mark": {"type": "rule", "color": "#8c8c8c", "strokeDash": [2,2], "strokeWidth": 1},
     "encoding": {"x": {"datum": -1.284, "type": "quantitative", "axis": null}, "x2": {"datum": 331.78}, "y": {"datum": 40, "type": "quantitative"}}},
    {"transform": [{"filter": "datum.i == 280"}], "mark": {"type": "text", "color": "#333333", "align": "right", "dx": 25, "fontSize": 12.5},
     "encoding": {"x": {"datum": 340, "type": "quantitative", "axis": null}, "y": {"datum": 60, "type": "quantitative"}, "text": {"value": "60"}}},
    {"transform": [{"filter": "datum.i == 280"}], "mark": {"type": "text", "color": "#111111"},
     "encoding": {"x": {"datum": -0.2, "type": "quantitative", "axis": null}, "y": {"datum": 80, "type": "quantitative"}, "text": {"value": "VNINDEX - "}}},
    {"transform": [{"filter": "datum.i == 280"}], "mark": {"type": "text", "color": "#2b2bc4", "dx": 66},
     "encoding": {"x": {"datum": -0.2, "type": "quantitative", "axis": null}, "y": {"datum": 80, "type": "quantitative"}, "text": {"value": "Above MA50"}}},
    {"transform": [{"filter": "datum.i == 280"}], "mark": {"type": "text", "color": "#111111", "dx": 140.5},
     "encoding": {"x": {"datum": -0.2, "type": "quantitative", "axis": null}, "y": {"datum": 80, "type": "quantitative"}, "text": {"value": "= 37.82"}}},
    {"transform": [{"filter": "datum.i == 280"}],
     "mark": {"type": "point", "shape": "M -1 0 L -0.8 -0.25 L 1 -0.25 L 1 0.25 L -0.8 0.25 Z", "size": 3600, "filled": true, "color": "#1111dd", "opacity": 1},
     "encoding": {"x": {"datum": 340, "type": "quantitative", "axis": null}, "y": {"field": "b", "type": "quantitative"}}},
    {"transform": [{"filter": "datum.i == 280"}],
     "mark": {"type": "text", "color": "#ffffff", "align": "right", "dx": 25, "fontSize": 12.5},
     "encoding": {"x": {"datum": 340, "type": "quantitative", "axis": null}, "y": {"field": "b", "type": "quantitative"}, "text": {"field": "b", "format": ".4f"}}}
  ]
},
{
  "width": 1219, "height": 80,
  "data": {"name": "bars"},
  "encoding": {
    "x": {"field": "i", "type": "quantitative", "scale": {"domain": [-1.284, 331.78], "nice": false, "zero": false},
      "axis": {"title": null, "orient": "bottom", "values": [19,38,60,82,103,125,141,162,181,203,223,246,268],
        "labelExpr": "['Sep','Oct','Nov','Dec','2024','Feb','Mar','Apr','May','Jun','Jul','Aug','Sep'][indexof([19,38,60,82,103,125,141,162,181,203,223,246,268], datum.value)]",
        "labelAlign": "left", "labelBaseline": "middle", "labelOffset": 2, "labelPadding": 2, "tickSize": 4, "tickColor": "#333333", "grid": false, "labelOverlap": false, "labelFlush": false,
        "labelFontWeight": {"condition": {"test": "datum.value == 103", "value": "bold"}, "value": "normal"}}}
  },
  "layer": [
    {"mark": {"type": "line", "color": "#1f1fa6", "strokeWidth": 1.6, "clip": true, "invalid": "break-paths-show-domains"},
     "encoding": {
       "y": {"field": "m", "type": "quantitative", "scale": {"domain": [32.2, 92.3], "nice": false, "zero": false},
         "axis": {"title": null, "orient": "right", "values": [50,70], "labelExpr": "datum.value == 50 ? '' : datum.label", "labelOverlap": false, "grid": true, "gridColor": "#8c8c8c", "gridDash": [2,2], "tickSize": 3, "labelAlign": "right", "labelBaseline": "middle", "labelPadding": 52}}}},
    {"transform": [{"filter": "datum.i == 280"}], "mark": {"type": "text", "color": "#111111"},
     "encoding": {"x": {"datum": -0.2, "type": "quantitative"}, "y": {"datum": 87, "type": "quantitative"}, "text": {"value": "VNINDEX - "}}},
    {"transform": [{"filter": "datum.i == 280"}], "mark": {"type": "text", "color": "#2b2bc4", "dx": 66},
     "encoding": {"x": {"datum": -0.2, "type": "quantitative"}, "y": {"datum": 87, "type": "quantitative"}, "text": {"value": "Above MA200"}}},
    {"transform": [{"filter": "datum.i == 280"}], "mark": {"type": "text", "color": "#111111", "dx": 147.4},
     "encoding": {"x": {"datum": -0.2, "type": "quantitative"}, "y": {"datum": 87, "type": "quantitative"}, "text": {"value": "= 51.30"}}},
    {"transform": [{"filter": "datum.i == 280"}],
     "mark": {"type": "point", "shape": "M -1 0 L -0.8 -0.25 L 1 -0.25 L 1 0.25 L -0.8 0.25 Z", "size": 3600, "filled": true, "color": "#1111dd", "opacity": 1},
     "encoding": {"x": {"datum": 340, "type": "quantitative"}, "y": {"field": "m", "type": "quantitative"}}},
    {"transform": [{"filter": "datum.i == 280"}],
     "mark": {"type": "text", "color": "#ffffff", "align": "right", "dx": 25, "fontSize": 12.5},
     "encoding": {"x": {"datum": 340, "type": "quantitative"}, "y": {"field": "m", "type": "quantitative"}, "text": {"field": "m", "format": ".4f"}}}
  ]
},
{
  "width": 1219, "height": 94,
  "data": {"name": "bars"},
  "encoding": {
    "x": {"field": "i", "type": "quantitative", "scale": {"domain": [-1.284, 331.78], "nice": false, "zero": false},
      "axis": {"title": null, "orient": "bottom", "values": [19,38,60,82,103,125,141,162,181,203,223,246,268],
        "labelExpr": "['Sep','Oct','Nov','Dec','2024','Feb','Mar','Apr','May','Jun','Jul','Aug','Sep'][indexof([19,38,60,82,103,125,141,162,181,203,223,246,268], datum.value)]",
        "labelAlign": "left", "labelBaseline": "middle", "labelOffset": 2, "labelPadding": 2, "tickSize": 4, "tickColor": "#333333", "grid": false, "labelOverlap": false, "labelFlush": false,
        "labelFontWeight": {"condition": {"test": "datum.value == 103", "value": "bold"}, "value": "normal"}}}
  },
  "layer": [
    {"mark": {"type": "rule", "strokeWidth": 1.6},
     "encoding": {
       "y": {"field": "v", "type": "quantitative", "scale": {"domain": [360, 1745], "nice": false, "zero": false},
         "axis": {"title": null, "orient": "right", "values": [500,1000,1500], "labelExpr": "format(datum.value, ',') + 'M'", "labelOverlap": false, "grid": true, "gridColor": "#8c8c8c", "gridDash": [2,2], "tickSize": 3, "labelAlign": "right", "labelBaseline": "middle", "labelPadding": 52}},
       "y2": {"datum": 360},
       "color": {"condition": {"test": "datum.c >= datum.o", "value": "#1a1adc"}, "value": "#e01a1a"}}},
    {"transform": [{"filter": "datum.i == 280"}], "mark": {"type": "text", "color": "#111111"},
     "encoding": {"x": {"datum": -0.2, "type": "quantitative"}, "y": {"datum": 1633, "type": "quantitative"}, "text": {"value": "VNINDEX - "}}},
    {"transform": [{"filter": "datum.i == 280"}], "mark": {"type": "text", "color": "#e02020", "dx": 66},
     "encoding": {"x": {"datum": -0.2, "type": "quantitative"}, "y": {"datum": 1633, "type": "quantitative"}, "text": {"value": "Volume"}}},
    {"transform": [{"filter": "datum.i == 280"}], "mark": {"type": "text", "color": "#111111", "dx": 111.5},
     "encoding": {"x": {"datum": -0.2, "type": "quantitative"}, "y": {"datum": 1633, "type": "quantitative"}, "text": {"value": "= 840,427,520.00"}}},
    {"transform": [{"filter": "datum.i == 280"}],
     "mark": {"type": "point", "shape": "M -1 0 L -0.8 -0.25 L 1 -0.25 L 1 0.25 L -0.8 0.25 Z", "size": 3600, "filled": true, "color": "#e00000", "opacity": 1},
     "encoding": {"x": {"datum": 340, "type": "quantitative"}, "y": {"field": "v", "type": "quantitative"}}},
    {"transform": [{"filter": "datum.i == 280"}],
     "mark": {"type": "text", "color": "#5a0000", "align": "right", "dx": 27, "fontSize": 12.5},
     "encoding": {"x": {"datum": 340, "type": "quantitative"}, "y": {"field": "v", "type": "quantitative"}, "text": {"value": "840,427"}}}
  ]
}
]
}
